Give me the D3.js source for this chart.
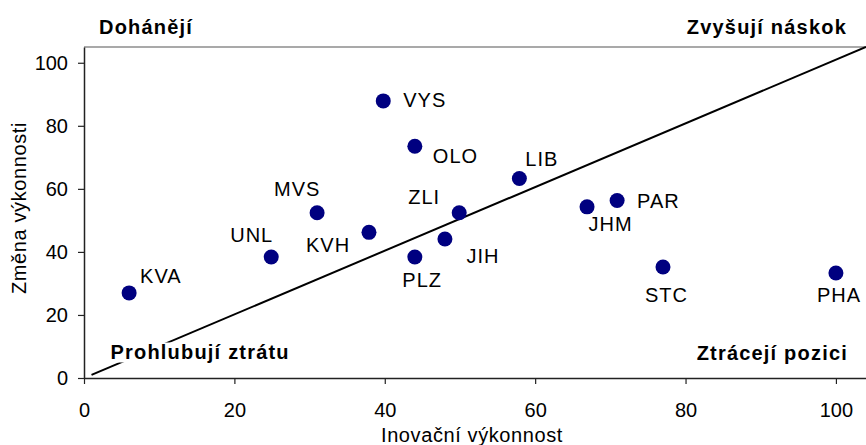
<!DOCTYPE html>
<html lang="cs">
<head>
  <meta charset="UTF-8">
  <title>Inovační výkonnost</title>
  <script src="https://d3js.org/d3.v7.min.js"></script>
  <style>
    body { margin: 0; background: #fff; }
    svg text { font-family: "Liberation Sans", Arial, sans-serif; fill: #000; }
  </style>
</head>
<body>
  <div id="chart"></div>
  <script type="text/javascript">
    // regions (kraje) and their values
    var regions = ["VYS", "OLO", "LIB", "MVS", "ZLI", "KVH", "UNL", "PLZ", "JIH", "JHM", "PAR", "STC", "PHA", "KVA"];
    var innovation = [39.8, 44.0, 57.9, 31.0, 49.9, 37.9, 24.9, 44.0, 48.0, 66.9, 70.9, 77.0, 100.0, 6.0];
    var change = [87.9, 73.5, 63.3, 52.4, 52.4, 46.2, 38.4, 38.4, 44.1, 54.3, 56.3, 35.2, 33.3, 27.0];
    var xTicks = [0, 20, 40, 60, 80, 100];
    var yTicks = [0, 20, 40, 60, 80, 100];
    // diagonal reference line
    var diagonal = [[1, 1], [104, 105]];

    // where each label sits relative to its point (pixels)
    var labelPos = {
      VYS: [20, 6, "start"], OLO: [18, 17, "start"], LIB: [6, -12.5, "start"],
      MVS: [-43, -17, "start"], ZLI: [-51, -8.5, "start"], KVH: [-63, 19.5, "start"],
      UNL: [2, -15, "end"], PLZ: [-12.5, 30, "start"], JIH: [21.5, 24.5, "start"],
      JHM: [1.5, 24.5, "start"], PAR: [20, 7.5, "start"], STC: [-18, 35, "start"],
      PHA: [-19, 29, "start"], KVA: [11, -9.5, "start"]
    };

    var data = regions.map(function (r, i) {
      return { name: r, x: innovation[i], y: change[i] };
    });

    var W = 866, H = 445;
    var m = { left: 84, right: 866, top: 47, bottom: 378 };

    var svg = d3.select("#chart").append("svg")
      .attr("width", W).attr("height", H);

    var x = d3.scaleLinear().domain([0, 104]).range([m.left, m.right]);
    var y = d3.scaleLinear().domain([0, 105]).range([m.bottom, m.top]);

    // top border of plot area
    svg.append("line")
      .attr("x1", m.left).attr("x2", m.right)
      .attr("y1", m.top).attr("y2", m.top)
      .attr("stroke", "#8c8c8c").attr("stroke-width", 1.5);

    var xAxis = svg.append("g")
      .attr("transform", "translate(0," + m.bottom + ")")
      .call(d3.axisBottom(x).tickValues(xTicks).tickSize(6).tickPadding(19).tickSizeOuter(0));
    var yAxis = svg.append("g")
      .attr("transform", "translate(" + m.left + ",0)")
      .call(d3.axisLeft(y).tickValues(yTicks).tickSize(6).tickPadding(10).tickSizeOuter(0));

    [xAxis, yAxis].forEach(function (g) {
      g.select(".domain").attr("stroke", "#222").attr("stroke-width", 1.5);
      g.selectAll(".tick line").attr("stroke", "#222").attr("stroke-width", 1.2);
      g.selectAll(".tick text")
        .style("font-size", "20px")
        .style("font-family", "'Liberation Sans', Arial, sans-serif")
        .attr("fill", "#000");
    });

    // diagonal line
    svg.append("path")
      .datum(diagonal)
      .attr("d", d3.line().x(function (d) { return x(d[0]); }).y(function (d) { return y(d[1]); }))
      .attr("stroke", "#000").attr("stroke-width", 2).attr("fill", "none");

    // quadrant titles, with white boxes behind (bottom-left one covers the line)
    var corner = [
      { t: "Doháněj\u00ed", x: 99, y: 34, a: "start" },
      { t: "Zvyšují náskok", x: 847, y: 33.5, a: "end" },
      { t: "Prohlubují ztrátu", x: 110.5, y: 358.5, a: "start" },
      { t: "Ztrácejí pozici", x: 848, y: 359.5, a: "end" }
    ];

    var cornerText = svg.selectAll("g.corner")
      .data(corner)
      .enter().append("g").attr("class", "corner");
    cornerText.append("text")
      .attr("x", function (d) { return d.x; })
      .attr("y", function (d) { return d.y; })
      .attr("text-anchor", function (d) { return d.a; })
      .style("font-size", "20px")
      .style("font-weight", "bold")
      .style("letter-spacing", "1.2px")
      .text(function (d) { return d.t; });
    cornerText.each(function () {
      var t = d3.select(this).select("text");
      var bb = t.node().getBBox();
      d3.select(this).insert("rect", "text")
        .attr("x", bb.x - 3).attr("y", bb.y + 2)
        .attr("width", bb.width + 6).attr("height", bb.height - 2)
        .attr("fill", "#fff");
    });

    // points
    svg.selectAll("circle.pt")
      .data(data)
      .enter().append("circle")
      .attr("class", "pt")
      .attr("cx", function (d) { return x(d.x); })
      .attr("cy", function (d) { return y(d.y); })
      .attr("r", 7.5)
      .attr("fill", "#000080");

    svg.selectAll("text.lbl")
      .data(data)
      .enter().append("text")
      .attr("class", "lbl")
      .attr("x", function (d) { return x(d.x) + labelPos[d.name][0]; })
      .attr("y", function (d) { return y(d.y) + labelPos[d.name][1]; })
      .attr("text-anchor", function (d) { return labelPos[d.name][2]; })
      .style("font-size", "20px")
      .style("letter-spacing", "1px")
      .text(function (d) { return d.name; });

    // axis titles
    svg.append("text")
      .attr("x", 472).attr("y", 441.5)
      .attr("text-anchor", "middle")
      .style("font-size", "20px")
      .style("letter-spacing", "0.6px")
      .text("Inovační výkonnost");
    svg.append("text")
      .attr("transform", "translate(26,208) rotate(-90)")
      .attr("text-anchor", "middle")
      .style("font-size", "20px")
      .style("letter-spacing", "0.6px")
      .text("Změna výkonnosti");
  </script>
</body>
</html>
